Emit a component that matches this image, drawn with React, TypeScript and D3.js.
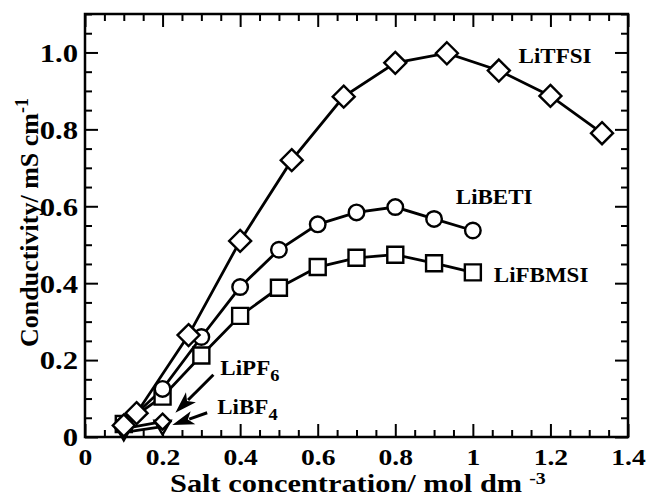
import { useEffect, useRef } from 'react';
import * as d3 from 'd3';

const width = 648;
const height = 499;
const [mt, mr, mb, ml] = [14, 20, 62, 85];

// LiTFSI (diamonds)
const tfsiX = [0.1, 0.133, 0.267, 0.4, 0.533, 0.667, 0.8, 0.933, 1.067, 1.2, 1.333];
const tfsiY = [0.03, 0.062, 0.265, 0.51, 0.72, 0.885, 0.973, 0.998, 0.953, 0.887, 0.79];
// LiBETI (circles)
const betiX = [0.1, 0.2, 0.3, 0.4, 0.5, 0.6, 0.7, 0.8, 0.9, 1.0];
const betiY = [0.03, 0.125, 0.26, 0.39, 0.487, 0.553, 0.584, 0.598, 0.567, 0.537];
// LiFBMSI (squares)
const fbmsiX = [0.1, 0.2, 0.3, 0.4, 0.5, 0.6, 0.7, 0.8, 0.9, 1.0];
const fbmsiY = [0.034, 0.105, 0.212, 0.315, 0.388, 0.442, 0.466, 0.474, 0.452, 0.428];
// LiPF6 (diamonds, small)
const pf6X = [0.1, 0.2];
const pf6Y = [0.022, 0.04];
// LiBF4 (down triangles)
const bf4X = [0.1, 0.2];
const bf4Y = [0.012, 0.027];

const xMajor = [0, 0.2, 0.4, 0.6, 0.8, 1, 1.2, 1.4];
const yMajor = [0, 0.2, 0.4, 0.6, 0.8, 1.0];

const font = "'Liberation Serif', 'Times New Roman', serif";
// the scanned figure is a bit stretched sideways, so horizontal text is widened
const sx = 1.15;

function App() {
    const ref = useRef<SVGSVGElement>(null);

    useEffect(() => {
        const svg = d3.select(ref.current);
        svg.selectAll('*').remove();

        const x = d3.scaleLinear().domain([0, 1.4]).range([ml, width - mr]);
        const y = d3.scaleLinear().domain([0, 1.1]).range([height - mb, mt]);

        const xMinor = d3.range(0, 1.4001, 0.05).filter((v) => Math.abs(v * 5 - Math.round(v * 5)) > 1e-6);
        const yMinor = d3.range(0, 1.1001, 0.05).filter((v) => Math.abs(v * 5 - Math.round(v * 5)) > 1e-6);

        const styleAxis = (g) => {
            g.attr('font-family', null).attr('font-size', null);
            g.select('.domain').remove();
            g.selectAll('.tick line').attr('stroke', '#000').attr('stroke-width', 2);
        };
        const styleLabels = (size) => (g) =>
            g
                .selectAll('text')
                .style('font-family', font)
                .style('font-weight', 'bold')
                .style('font-size', `${size}px`)
                .attr('fill', '#000');

        // ticks on all four sides, pointing inward
        svg.append('g')
            .attr('transform', `translate(0,${height - mb})`)
            .call(d3.axisBottom(x).tickValues(xMajor).tickSize(-13).tickFormat((d) => `${d}`))
            .call(styleAxis)
            .call(styleLabels(23))
            .call((g) => g.selectAll('text').attr('y', 28).attr('dy', 0).attr('transform', 'scale(1.2,1)'));
        svg.append('g')
            .attr('transform', `translate(0,${height - mb})`)
            .call(d3.axisBottom(x).tickValues(xMinor).tickSize(-7).tickFormat(() => ''))
            .call(styleAxis);

        svg.append('g')
            .attr('transform', `translate(0,${mt})`)
            .call(d3.axisTop(x).tickValues(xMajor).tickSize(-13).tickFormat(() => ''))
            .call(styleAxis);
        svg.append('g')
            .attr('transform', `translate(0,${mt})`)
            .call(d3.axisTop(x).tickValues(xMinor).tickSize(-7).tickFormat(() => ''))
            .call(styleAxis);

        svg.append('g')
            .attr('transform', `translate(${ml},0)`)
            .call(
                d3
                    .axisLeft(y)
                    .tickValues(yMajor)
                    .tickSize(-13)
                    .tickFormat((d) => (d === 0 ? '0' : d3.format('.1f')(d)))
            )
            .call(styleAxis)
            .call(styleLabels(26))
            .call((g) =>
                g
                    .selectAll('text')
                    .attr('x', -7 / 1.18)
                    .attr('dy', '0.34em')
                    .attr('transform', 'scale(1.18,1)')
            );
        svg.append('g')
            .attr('transform', `translate(${ml},0)`)
            .call(d3.axisLeft(y).tickValues(yMinor).tickSize(-7).tickFormat(() => ''))
            .call(styleAxis);

        svg.append('g')
            .attr('transform', `translate(${width - mr},0)`)
            .call(d3.axisRight(y).tickValues(yMajor).tickSize(-13).tickFormat(() => ''))
            .call(styleAxis);
        svg.append('g')
            .attr('transform', `translate(${width - mr},0)`)
            .call(d3.axisRight(y).tickValues(yMinor).tickSize(-7).tickFormat(() => ''))
            .call(styleAxis);

        // frame
        svg.append('rect')
            .attr('x', ml)
            .attr('y', mt)
            .attr('width', width - ml - mr)
            .attr('height', height - mt - mb)
            .attr('fill', 'none')
            .attr('stroke', '#000')
            .attr('stroke-width', 2.5);

        const line = d3
            .line<[number, number]>()
            .x((d) => x(d[0]))
            .y((d) => y(d[1]));

        const series = [
            { xs: bf4X, ys: bf4Y, shape: 'triDown' },
            { xs: pf6X, ys: pf6Y, shape: 'diamondSmall' },
            { xs: fbmsiX, ys: fbmsiY, shape: 'square' },
            { xs: betiX, ys: betiY, shape: 'circle' },
            { xs: tfsiX, ys: tfsiY, shape: 'diamond' }
        ];

        const symbols = {
            diamond: 'M0,-11L11,0L0,11L-11,0Z',
            diamondSmall: 'M0,-8L8,0L0,8L-8,0Z',
            square: 'M-8,-8H8V8H-8Z',
            circle: d3.symbol(d3.symbolCircle, 190)(),
            triDown: 'M-8,-6H8L0,8Z'
        };

        series.forEach((s) => {
            const pts = s.xs.map((v, i) => [v, s.ys[i]] as [number, number]);
            svg.append('path')
                .attr('d', line(pts))
                .attr('fill', 'none')
                .attr('stroke', '#000')
                .attr('stroke-width', 2.8);
        });
        series.forEach((s) => {
            const pts = s.xs.map((v, i) => [v, s.ys[i]] as [number, number]);
            svg.append('g')
                .selectAll('path')
                .data(pts)
                .enter()
                .append('path')
                .attr('d', symbols[s.shape])
                .attr('transform', (d) => `translate(${x(d[0])},${y(d[1])})`)
                .attr('fill', '#fff')
                .attr('stroke', '#000')
                .attr('stroke-width', 2.4);
        });

        // arrows for LiPF6 and LiBF4 (shaft + filled head)
        const arrows = [
            [0.331, 0.162, 0.233, 0.063],
            [0.315, 0.063, 0.225, 0.031]
        ];
        arrows.forEach(([x1, y1, x2, y2]) => {
            const [ax, ay, bx, by] = [x(x1), y(y1), x(x2), y(y2)];
            const ang = Math.atan2(by - ay, bx - ax);
            const len = 22;
            const hw = 7;
            const baseX = bx - len * Math.cos(ang);
            const baseY = by - len * Math.sin(ang);
            svg.append('line')
                .attr('x1', ax)
                .attr('y1', ay)
                .attr('x2', baseX + 4 * Math.cos(ang))
                .attr('y2', baseY + 4 * Math.sin(ang))
                .attr('stroke', '#000')
                .attr('stroke-width', 3);
            const px = -Math.sin(ang) * hw;
            const py = Math.cos(ang) * hw;
            const nx = baseX + 0.25 * len * Math.cos(ang);
            const ny = baseY + 0.25 * len * Math.sin(ang);
            svg.append('path')
                .attr('d', `M${bx},${by}L${baseX + px},${baseY + py}L${nx},${ny}L${baseX - px},${baseY - py}Z`)
                .attr('fill', '#000');
        });

        // series labels
        const labels = [
            { t: 'LiTFSI', sub: '', lx: 1.118, ly: 0.973 },
            { t: 'LiBETI', sub: '', lx: 0.956, ly: 0.605 },
            { t: 'LiFBMSI', sub: '', lx: 1.054, ly: 0.404 },
            { t: 'LiPF', sub: '6', lx: 0.349, ly: 0.162 },
            { t: 'LiBF', sub: '4', lx: 0.341, ly: 0.06 }
        ];
        labels.forEach((l) => {
            const txt = svg
                .append('text')
                .attr('transform', `translate(${x(l.lx)},${y(l.ly)}) scale(${sx},1)`)
                .style('font-family', font)
                .style('font-weight', 'bold')
                .style('font-size', '20px')
                .text(l.t);
            if (l.sub) {
                txt.append('tspan').attr('dy', 6).style('font-size', '16px').text(l.sub);
            }
        });

        // axis titles
        const xt = svg
            .append('text')
            .attr('transform', `translate(170,492) scale(1.17,1)`)
            .style('font-family', font)
            .style('font-weight', 'bold')
            .style('font-size', '26px')
            .text('Salt concentration/ mol dm');
        xt.append('tspan').attr('dx', 6).attr('dy', -8).style('font-size', '17px').text('-3');

        const yt = svg
            .append('text')
            .attr('transform', `translate(38,347) rotate(-90)`)
            .style('font-family', font)
            .style('font-weight', 'bold')
            .style('font-size', '26px')
            .text('Conductivity/ mS cm');
        yt.append('tspan').attr('dy', -10).style('font-size', '18px').text('-1');
    }, []);

    return (
        <svg
            ref={ref}
            width={width}
            height={height}
            style={{ position: 'absolute', left: 0, top: 0, background: '#fff' }}
        />
    );
}

export default App;
